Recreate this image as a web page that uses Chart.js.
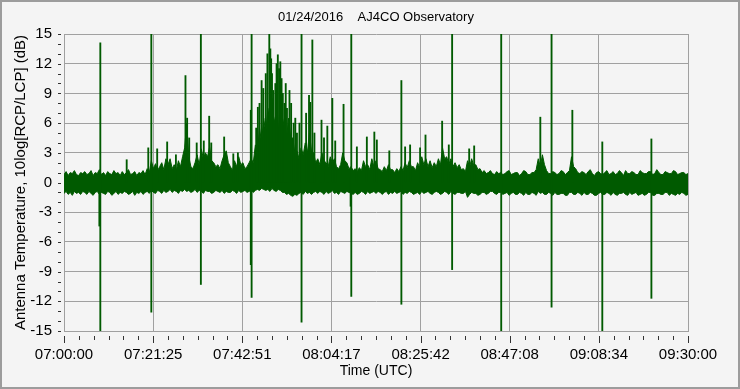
<!DOCTYPE html>
<html>
<head>
<meta charset="utf-8">
<script src="https://cdn.jsdelivr.net/npm/chart.js@4.4.1/dist/chart.umd.min.js"></script>
<style>
  html, body { margin: 0; padding: 0; background: #f4f4f4; }
  #wrap { width: 740px; height: 389px; position: relative; }
</style>
</head>
<body>
<div id="wrap"><canvas id="myChart"></canvas></div>
<script>
const ctx = document.getElementById('myChart')

// x axis: minutes after 07:00:00 UTC, 0..150
const tickLabels = ['07:00:00', '07:21:25', '07:42:51', '08:04:17', '08:25:42', '08:47:08', '09:08:34', '09:30:00']

// upper / lower edge of the noise band, one value per half minute (dB)
const bandTop = [
  0.8, 1.1, 0.7, 1.0, 0.9, 1.2, 0.8, 0.7, 1.0, 0.9,
  1.1, 0.8, 0.9, 1.2, 0.7, 1.0, 0.9, 1.3, 0.8, 1.0,
  0.7, 1.1, 0.9, 0.8, 1.2, 0.9, 1.0, 0.7, 1.1, 0.8,
  1.0, 1.3, 0.8, 0.9, 1.1, 0.7, 1.0, 0.9, 1.2, 0.8,
  1.4, 1.0, 2.2, 1.4, 1.9, 1.2, 1.6, 2.0, 1.3, 2.4,
  1.8, 2.4, 1.4, 1.8, 1.2, 2.2, 1.6, 2.6, 3.5, 6.0,
  2.6, 1.6, 1.4, 2.0, 2.8, 1.8, 3.4, 2.4, 3.0, 2.6,
  3.6, 2.2, 2.0, 1.6, 1.8, 1.4, 2.2, 2.8, 3.2, 2.0,
  1.6, 1.2, 2.2, 1.6, 2.6, 1.8, 2.0, 1.4, 1.6, 2.0,
  2.4, 2.0, 3.8, 3.0, 5.5, 4.0, 6.5, 5.0, 7.5, 6.0,
  8.5, 6.0, 7.0, 5.0, 8.0, 5.5, 6.5, 4.5, 6.5, 4.5,
  4.5, 3.0, 3.2, 2.4, 3.5, 2.8, 4.0, 3.0, 5.0, 3.2,
  3.0, 2.0, 2.4, 1.8, 3.0, 2.2, 2.0, 1.6, 2.6, 2.0,
  2.4, 1.6, 1.4, 1.8, 3.0, 2.2, 2.0, 1.4, 1.6, 1.2,
  1.4, 1.1, 1.5, 1.2, 2.2, 1.6, 1.8, 1.3, 2.4, 1.6,
  2.2, 1.4, 1.3, 1.1, 1.6, 1.2, 1.8, 1.3, 1.3, 1.0,
  1.4, 1.1, 1.6, 1.2, 2.0, 1.5, 2.2, 1.6, 1.6, 1.2,
  2.0, 1.5, 2.6, 1.8, 2.4, 1.6, 2.2, 1.5, 2.0, 1.6,
  2.4, 1.8, 3.5, 2.4, 2.6, 1.8, 2.4, 1.6, 2.0, 1.5,
  1.8, 1.3, 1.4, 1.1, 2.2, 1.6, 2.4, 1.7, 1.8, 1.3,
  1.4, 1.0, 1.2, 0.9, 1.0, 1.2, 0.9, 0.8, 1.1, 0.9,
  1.0, 0.8, 0.9, 1.1, 1.2, 0.8, 0.9, 1.0, 1.0, 0.7,
  0.9, 1.2, 1.1, 0.8, 0.8, 1.0, 1.0, 1.3, 2.4, 1.6,
  2.8, 1.8, 1.2, 0.9, 0.9, 1.1, 1.0, 0.8, 0.9, 1.2,
  1.1, 0.8, 1.0, 1.2, 2.6, 1.6, 1.4, 1.0, 0.9, 1.1,
  1.0, 0.8, 1.1, 1.3, 0.9, 0.7, 1.0, 1.1, 0.9, 0.8,
  1.0, 1.2, 0.8, 0.9, 1.1, 0.8, 0.9, 1.2, 1.0, 0.7,
  1.2, 0.9, 0.9, 1.1, 1.0, 0.8, 0.8, 1.2, 1.0, 0.9,
  0.9, 1.1, 1.1, 0.8, 0.9, 1.3, 1.0, 0.8, 0.8, 1.1,
  1.0, 0.9, 0.9, 1.2, 1.1, 0.8, 0.9, 1.0, 1.0, 0.8,
  0.9
]
const bandBottom = [
  -1.1, -0.9, -1.2, -1.0, -1.3, -0.9, -1.1, -1.0, -1.2, -0.9,
  -1.0, -1.2, -0.9, -1.1, -1.3, -1.0, -0.9, -1.2, -1.0, -1.1,
  -1.2, -0.9, -1.0, -1.3, -1.1, -0.9, -1.2, -1.0, -1.1, -0.9,
  -1.0, -1.2, -1.1, -0.9, -1.3, -1.0, -1.1, -0.9, -1.2, -1.0,
  -0.9, -1.1, -0.8, -1.0, -1.1, -0.8, -0.9, -1.1, -0.8, -1.0,
  -0.9, -0.7, -1.0, -0.8, -0.9, -1.1, -0.8, -0.9, -0.7, -0.9,
  -0.8, -1.0, -0.9, -0.7, -1.0, -0.8, -0.9, -1.1, -0.8, -0.9,
  -0.9, -1.1, -1.0, -0.8, -0.9, -1.0, -0.8, -1.1, -0.9, -1.0,
  -1.0, -0.8, -0.9, -1.1, -0.8, -1.0, -0.9, -0.8, -1.0, -0.9,
  -0.8, -1.0, -0.8, -0.7, -0.8, -0.6, -0.7, -0.8, -0.7, -0.9,
  -0.6, -0.8, -0.9, -0.7, -0.8, -1.0, -1.0, -1.2, -1.1, -1.3,
  -1.4, -1.2, -1.3, -1.1, -1.0, -1.2, -0.9, -1.1, -1.0, -1.2,
  -1.0, -0.9, -1.1, -0.9, -1.0, -1.2, -0.9, -1.1, -1.0, -0.8,
  -1.1, -1.0, -1.2, -0.9, -1.0, -1.1, -0.9, -1.0, -1.1, -1.2,
  -1.0, -1.2, -1.1, -0.9, -1.0, -1.2, -0.9, -1.1, -1.0, -0.9,
  -1.1, -0.9, -1.0, -1.2, -1.0, -0.9, -1.2, -1.0, -1.1, -0.9,
  -1.1, -1.0, -0.9, -1.2, -1.0, -1.1, -0.9, -1.0, -1.2, -1.1,
  -1.0, -1.2, -0.9, -1.1, -1.0, -0.9, -1.1, -1.2, -1.0, -0.9,
  -1.0, -1.2, -1.1, -0.9, -1.0, -1.2, -0.9, -1.1, -1.2, -1.0,
  -1.0, -1.1, -1.1, -0.9, -1.5, -1.2, -1.0, -1.1, -1.1, -1.3,
  -1.2, -1.0, -1.0, -1.2, -1.1, -0.9, -0.9, -1.1, -1.2, -1.0,
  -1.0, -1.2, -1.1, -1.0, -1.3, -1.1, -1.0, -1.2, -1.2, -1.0,
  -1.1, -1.3, -1.0, -1.2, -1.2, -1.0, -1.1, -1.3, -0.9, -1.1,
  -1.0, -1.2, -1.2, -1.0, -1.1, -1.3, -1.0, -1.2, -1.2, -1.1,
  -1.1, -1.3, -1.3, -1.0, -1.0, -1.2, -1.2, -1.0, -1.1, -1.3,
  -1.0, -1.2, -1.2, -1.0, -1.1, -1.3, -1.3, -1.1, -1.0, -1.2,
  -1.2, -1.0, -1.1, -1.3, -1.0, -1.2, -1.3, -1.1, -1.1, -1.0,
  -1.2, -1.3, -1.0, -1.2, -1.1, -1.0, -1.3, -1.2, -1.1, -1.3,
  -1.2, -1.0, -1.0, -1.3, -1.3, -1.1, -1.1, -1.2, -1.2, -1.0,
  -1.0, -1.3, -1.1, -1.2, -1.3, -1.1, -1.2, -1.0, -1.1, -1.3,
  -1.2
]

// narrow spikes: time (min), top and bottom (dB)
const spikeTimes = [8.5, 8.73, 15.07, 20.26, 20.99, 22.4, 24.8, 26.9, 29.2, 31.9,
  32.9, 34.9, 38.5, 40.7, 41.8, 44.9, 45.1, 46.6, 47.5, 48.9,
  49.35, 49.8, 50.3, 51.4, 52.0, 52.6, 53.6, 54.2, 55.2, 56.6,
  57.1, 58.9, 59.7, 61.9, 63.3, 64.5, 67.2, 68.9, 69.06, 72.8,
  74.6, 75.2, 78.2, 81.1, 82.0, 83.2, 85.6, 86.9, 90.9, 92.5,
  93.3, 97.4, 98.6, 105.1, 114.5, 117.2, 122.2, 129.4, 141.2]
const spikeHigh = [0.5, 14.1, 2.3, 3.5, 15, 3.4, 4.1, 2.8, 10.8, 4.0,
  15, 6.7, 4.6, 2.9, 3.0, 7.3, 15, 7.6, 10.3, 13.0,
  15, 12.5, 9.3, 12.9, 12.2, 9.0, 7.5, 9.3, 6.0, 6.0,
  15, 8.8, 14.4, 6.3, 5.7, 8.5, 7.9, 0.5, 15, 4.6,
  5.1, 4.3, 3.2, 10.3, 3.6, 3.8, 3.5, 4.8, 6.2, 3.8,
  15, 3.4, 3.7, 15, 6.6, 15, 7.3, 4.1, 4.4]
const spikeLow = [-4.4, -15, 0, 0, -13.1, 0, 0, 0, 0, 0,
  -10.3, 0, 0, 0, 0, -8.3, -11.6, 0, 0, 0,
  0, 0, 0, 0, 0, 0, 0, 0, 0, 0,
  -14.1, 0, 0, 0, 0, 0, 0, -2.4, -11.5, 0,
  0, 0, 0, -12.3, 0, 0, 0, 0, 0, 0,
  -8.8, 0, 0, -15, 0, -12.6, 0, -15, -11.7]

// extra short spikes inside the bursts (rise from the band)
const burstTimes = [29.6, 30.1, 33.6, 35.4, 46.2, 47.0, 47.9, 48.5, 49.6, 50.0,
  50.8, 51.1, 51.7, 52.3, 53.0, 53.3, 54.6, 55.6, 56.0, 58.2,
  59.2, 60.2, 62.5, 65.2, 70.4]
const burstHigh = [6.5, 4.5, 4.2, 4.0, 5.5, 8.0, 9.5, 11.0, 13.5, 11.0,
  10.0, 12.0, 11.5, 10.5, 8.0, 10.0, 8.0, 6.5, 5.0, 7.0,
  8.1, 5.0, 4.5, 4.2, 3.6]

const green = '#005a00'
const gridGray = '#a0a0a0'
const font = "'Liberation Sans', Arial, sans-serif"

const frameAndTicks = {
  id: 'frameAndTicks',
  beforeDraw(chart) {
    const c = chart.ctx
    c.save()
    c.fillStyle = '#f4f4f4'
    c.fillRect(0, 0, chart.width, chart.height)
    c.restore()
  },
  afterDraw(chart) {
    const c = chart.ctx
    const x = chart.scales.x
    const y = chart.scales.y
    const area = chart.chartArea
    c.save()
    c.strokeStyle = '#333333'
    c.lineWidth = 1
    c.beginPath()
    for (let i = 0; i <= 42; i++) {
      const px = Math.round(x.getPixelForValue(i * 150 / 42)) + 0.5
      const len = i % 6 === 0 ? 7 : 4
      c.moveTo(px, area.bottom + 5)
      c.lineTo(px, area.bottom + 5 + len)
    }
    for (let v = -15; v <= 15; v++) {
      const py = Math.round(y.getPixelForValue(v)) + 0.5
      c.moveTo(area.left - 6, py)
      c.lineTo(area.left - 3, py)
    }
    c.stroke()
    // window frame
    c.strokeStyle = '#9c9c9c'
    c.lineWidth = 2
    c.strokeRect(1, 1, chart.width - 2, chart.height - 2)
    c.restore()
  }
}

const spikeData = spikeTimes.map((t, i) => ({ x: t, y: [spikeLow[i], spikeHigh[i]] }))
  .concat(burstTimes.map((t, i) => ({ x: t, y: [0, burstHigh[i]] })))

new Chart(ctx, {
  type: 'line',
  data: {
    datasets: [
      {
        type: 'bar',
        data: spikeData,
        backgroundColor: green,
        borderWidth: 0,
        barThickness: 1.2,
        order: 0
      },
      {
        data: bandTop.map((v, i) => ({ x: i / 2, y: v })),
        borderColor: green,
        backgroundColor: green,
        borderWidth: 1,
        pointRadius: 0,
        fill: '+1',
        order: 1
      },
      {
        data: bandBottom.map((v, i) => ({ x: i / 2, y: v })),
        borderColor: green,
        backgroundColor: green,
        borderWidth: 1,
        pointRadius: 0,
        fill: false,
        order: 2
      }
    ]
  },
  options: {
    responsive: true,
    maintainAspectRatio: false,
    animation: false,
    devicePixelRatio: 1,
    layout: { padding: { left: 0, right: 52, top: 0, bottom: 0 } },
    plugins: {
      legend: { display: false },
      tooltip: { enabled: false },
      title: {
        display: true,
        text: '01/24/2016    AJ4CO Observatory',
        color: '#000',
        fullSize: false,
        font: { family: font, size: 13, weight: 'normal' },
        padding: { top: 10, bottom: 8.4 }
      }
    },
    scales: {
      x: {
        type: 'linear',
        min: 0,
        max: 150,
        offset: false,
        afterBuildTicks: scale => {
          scale.ticks = tickLabels.map((l, i) => ({ value: i * 150 / 7 }))
        },
        afterFit: scale => { scale.height = 58 },
        ticks: {
          autoSkip: false,
          maxRotation: 0,
          padding: 15,
          color: '#000',
          font: { family: font, size: 15 },
          callback: (v, i) => tickLabels[i]
        },
        grid: { color: gridGray, drawTicks: false, offset: false },
        border: { color: gridGray },
        title: {
          display: true,
          text: 'Time (UTC)',
          color: '#000',
          font: { family: font, size: 14 },
          padding: { top: 0, bottom: 9 }
        }
      },
      y: {
        min: -15,
        max: 15,
        afterFit: scale => { scale.width = 64 },
        ticks: {
          stepSize: 3,
          padding: 12,
          color: '#000',
          font: { family: font, size: 15 }
        },
        grid: { color: gridGray, drawTicks: false },
        border: { color: gridGray },
        title: {
          display: true,
          text: 'Antenna Temperature, 10log[RCP/LCP] (dB)',
          color: '#000',
          font: { family: font, size: 15 },
          padding: { top: 12, bottom: 0 }
        }
      }
    }
  },
  plugins: [frameAndTicks]
})
</script>
</body>
</html>
